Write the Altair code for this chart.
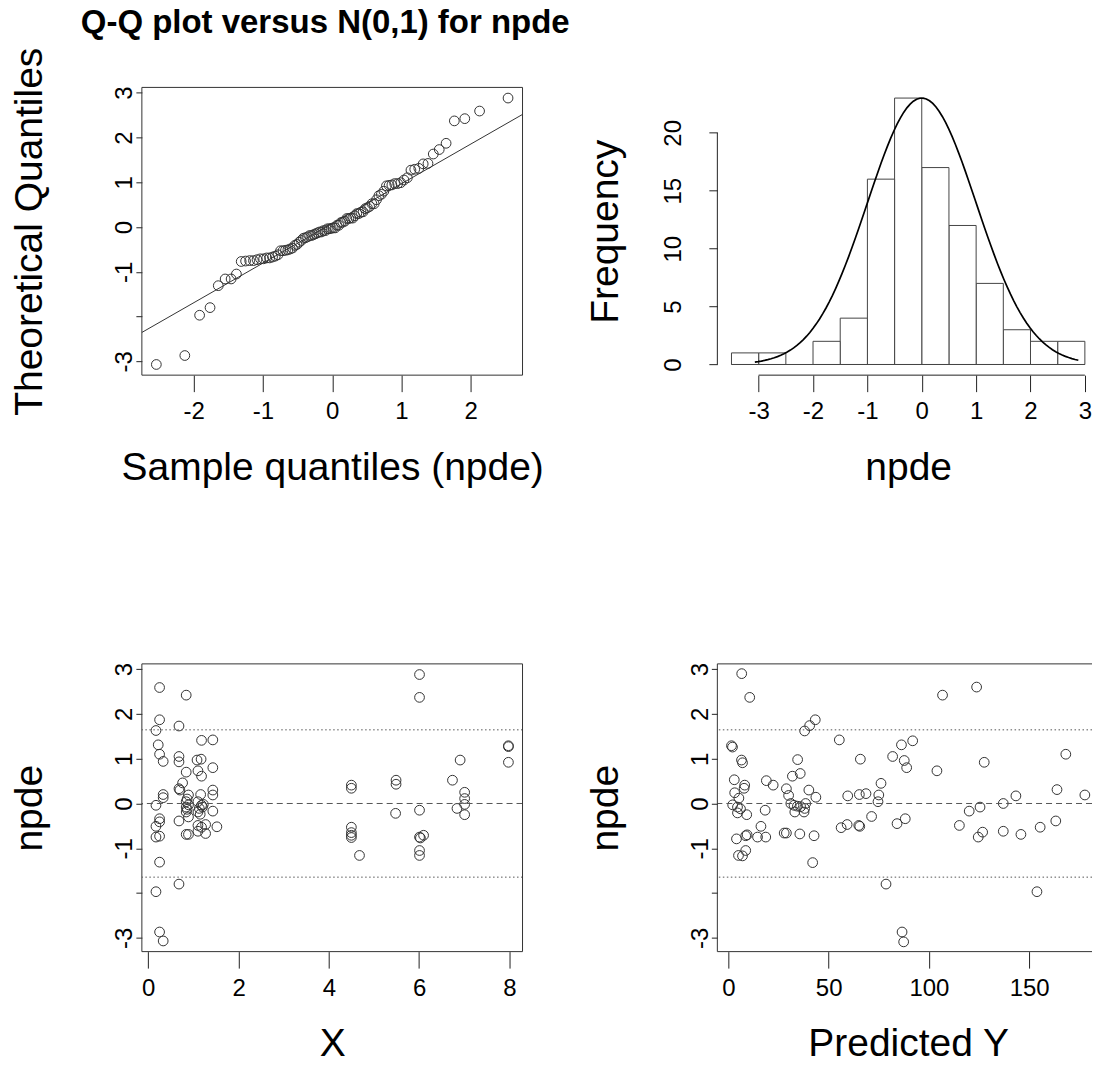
import altair as alt
import pandas as pd
import numpy as np

# ---------------- data ----------------
# bottom-left panel: X (time) and npde of each observation
time_x = [0.25, 0.84, 0.25, 0.68, 0.17, 1.18, 1.43, 0.22, 0.25, 0.33,
          0.68, 0.68, 1.08, 1.17, 1.43, 0.84, 1.10, 1.18, 0.76, 0.68,
          0.70, 0.33, 0.33, 0.89, 1.16, 1.43, 1.43, 0.17, 0.84, 0.84,
          0.84, 0.89, 1.10, 1.18, 1.20, 1.10, 1.43, 0.25, 0.25, 0.17,
          0.68, 1.10, 1.18, 1.27, 1.52, 0.84, 0.89, 1.10, 1.27, 0.17,
          0.25, 0.25, 0.68, 0.17, 0.25, 0.33,
          4.50, 4.50, 4.50, 4.50, 4.50, 4.68, 5.49, 5.49, 5.48, 6.01,
          6.01, 6.01, 6.01, 6.03, 6.10, 6.01, 6.01, 6.91, 6.74, 7.01,
          7.01, 7.01, 6.84, 7.01, 7.98, 7.98, 7.98,
          4.50, 0.86, 1.13, 0.89, 1.15, 1.22, 0.86]
npde = [2.59, 2.42, 1.87, 1.73, 1.63, 1.41, 1.42, 1.31, 1.10, 0.94,
        1.05, 0.93, 0.97, 0.99, 0.80, 0.70, 0.73, 0.61, 0.46, 0.33,
        0.30, 0.20, 0.13, 0.19, 0.20, 0.30, 0.19, -0.04, 0.04, -0.08,
        -0.19, -0.30, 0.04, -0.04, -0.08, -0.19, -0.17, -0.34, -0.41, -0.51,
        -0.39, -0.49, -0.53, -0.47, -0.52, -0.69, -0.69, -0.62, -0.67, -0.75,
        -0.73, -1.31, -1.80, -1.97, -2.87, -3.07,
        0.41, 0.34, -0.53, -0.65, -0.71, -1.16, 0.52, 0.43, -0.22, 2.88,
        2.37, -0.15, -0.75, -0.77, -0.71, -1.05, -1.16, 0.97, 0.52, 0.25,
        0.11, -0.02, -0.11, -0.25, 1.29, 1.27, 0.92,
        -0.76, -0.13, -0.11, -0.03, -0.24, -0.02, 0.10]

# bottom-right panel: predicted Y and npde
pred_y = [6.6, 10.6, 1.5, 2.0, 6.5, 7.0, 2.9, 8.1, 7.8, 3.1,
          5.2, 2.1, 4.5, 6.0, 4.5, 9.1, 18.3, 18.9, 22.3, 16.2,
          4.0, 8.6, 9.3, 14.5, 18.6, 8.6, 5.0, 7.0, 34.5, 31.9,
          35.8, 28.9, 30.0, 31.1, 32.7, 33.1, 34.4, 36.0, 38.0, 38.5,
          37.7, 27.8, 28.9, 35.6, 38.0, 40.5, 43.3, 40.1, 43.6, 42.7,
          42.0, 55.3, 65.8, 59.5, 65.3, 68.6, 76.1, 75.0, 74.6, 56.2,
          59.2, 65.0, 65.5, 71.4, 78.6, 86.3, 81.9, 87.7, 88.9, 84.1,
          88.2, 86.6, 87.4, 91.9, 104.0, 106.8, 123.8, 127.6, 115.2, 120.1,
          125.5, 126.8, 124.6, 137.1, 137.1, 143.4, 145.9, 153.9, 155.5, 163.3,
          163.9, 168.3, 177.8]
npde_pred = [2.90, 2.37, 1.29, 1.26, 0.97, 0.91, 0.53, 0.41, 0.34, 0.24,
             0.12, -0.03, -0.08, -0.12, -0.21, -0.25, -0.15, 0.51, 0.41, -0.51,
             -0.79, -0.72, -0.70, -0.75, -0.75, -1.05, -1.16, -1.17, 0.98, 0.61,
             0.67, 0.33, 0.18, 0.00, -0.04, -0.19, -0.06, -0.07, -0.11, 0.00,
             -0.19, -0.66, -0.66, -0.68, 1.62, 1.74, 1.87, 0.30, 0.14, -0.72,
             -1.32, 1.42, 0.99, 0.17, 0.20, 0.22, 0.45, 0.19, 0.04, -0.54,
             -0.47, -0.49, -0.51, -0.29, -1.80, 1.31, 1.05, 0.96, 0.80, -0.45,
             -0.34, -2.87, -3.09, 1.40, 0.73, 2.42, 2.60, 0.92, -0.49, -0.17,
             -0.08, -0.64, -0.75, 0.00, -0.62, 0.17, -0.69, -1.97, -0.53, -0.39,
             0.31, 1.10, 0.19]

hist_breaks = [-3.5, -3.0, -2.5, -2.0, -1.5, -1.0, -0.5, 0.0, 0.5, 1.0, 1.5, 2.0, 2.5, 3.0]
npde_ticks = [-3, -2, -1, 0, 1, 2, 3]
qq_ticks = [-2, -1, 0, 1, 2]
hist_xticks = [-3, -2, -1, 0, 1, 2, 3]
hist_yticks = [0, 5, 10, 15, 20]
x_ticks = [0, 2, 4, 6, 8]
pred_ticks = [0, 50, 100, 150]
ref_lines = [-1.645, 0.0, 1.645]
ref_dash = ["dot", "dash", "dot"]

# ---------------- derived quantities ----------------
df = pd.DataFrame({"time": time_x, "npde": npde})
dfp = pd.DataFrame({"pred": pred_y, "npde": npde_pred})
arr = np.array(npde)


def ext(lo, hi, f=0.04):
    r = hi - lo
    return [lo - f * r, hi + f * r]


ydom = ext(arr.min(), arr.max())
qq_lim = 2.5446  # |qnorm(0.5/90)|, extreme theoretical quantile
qq_dom = ext(-qq_lim, qq_lim)
q1, q3 = np.quantile(arr, [0.25, 0.75])
slope = (q3 - q1) / (2 * 0.6744898)
icpt = q1 + slope * 0.6744898
qqline = pd.DataFrame({"x": qq_dom, "y": [icpt + slope * v for v in qq_dom]})

counts, _ = np.histogram(arr, bins=hist_breaks)
maxc = int(counts.max())
mn, mx = float(arr.min()), float(arr.max())

W1, W2, H = 381, 375, 288
FONT = "Liberation Sans"
LBL = 24
TTL = 39
INK = "#222222"
BOX = "#333333"

hist_full = ext(hist_breaks[0], hist_breaks[-1])
hist_xdom = [hist_full[0], hist_full[0] + W2 * (hist_full[1] - hist_full[0]) / 382]
pred_full = ext(min(pred_y), max(pred_y))
pred_dom = [pred_full[0], pred_full[0] + W2 * (pred_full[1] - pred_full[0]) / 382]
xdom = ext(min(time_x), max(time_x))
hist_ydom = ext(0, maxc)

lab_expr = "datum.value == -2 ? '' : '' + datum.value"


def yaxis(title, values, label_off, tick=6, expr=lab_expr):
    return alt.Axis(values=values, labelExpr=expr, labelAngle=270, labelAlign="center",
                    labelBaseline="alphabetic", labelFontSize=LBL, labelFont=FONT,
                    labelColor="black", labelOverlap=False, labelBound=False,
                    tickSize=tick, labelPadding=label_off - tick, tickColor=INK,
                    domain=False, grid=False, title=title, titleFont=FONT,
                    titleFontSize=TTL, titleFontWeight="normal", titleColor="black",
                    titleAngle=270, titleAlign="center", titleBaseline="alphabetic",
                    titleX=-100, titleY=H / 2)


def xaxis(title, values, title_x):
    return alt.Axis(values=values, labelExpr="'' + datum.value", labelAngle=0,
                    labelAlign="center", labelBaseline="top", labelFontSize=LBL,
                    labelFont=FONT, labelColor="black", labelOverlap=False,
                    labelBound=False, labelFlush=False, tickSize=16.5,
                    labelPadding=8, tickColor=INK, domain=False, grid=False,
                    title=title, titleFont=FONT, titleFontSize=TTL,
                    titleFontWeight="normal", titleColor="black", titleAlign="center",
                    titleBaseline="alphabetic", titleX=title_x, titleY=104)


def circles(chart, x, y):
    return chart.mark_point(shape="circle", filled=False, size=95, color="#333333",
                            strokeWidth=1, opacity=1).encode(x=x, y=y)


edge_df = pd.DataFrame({"k": [0]})


def box(width, right=True):
    parts = [alt.Chart(edge_df).mark_rule(color=BOX, strokeWidth=1).encode(y=alt.value(0)),
             alt.Chart(edge_df).mark_rule(color=BOX, strokeWidth=1).encode(y=alt.value(H)),
             alt.Chart(edge_df).mark_rule(color=BOX, strokeWidth=1).encode(x=alt.value(0))]
    if right:
        parts.append(alt.Chart(edge_df).mark_rule(color=BOX, strokeWidth=1)
                     .encode(x=alt.value(width)))
    return parts


# ---------------- top-left: Q-Q plot ----------------
qq_base = (alt.Chart(df)
           .transform_window(rank="row_number()", sort=[alt.SortField("npde", order="ascending")])
           .transform_joinaggregate(n="count()")
           .transform_calculate(theo="quantileNormal((datum.rank - 0.5) / datum.n)"))
qq_x = alt.X("theo:Q", scale=alt.Scale(domain=qq_dom, nice=False, zero=False),
             axis=xaxis("Sample quantiles (npde)", qq_ticks, W1 / 2))
qq_y = alt.Y("npde:Q", scale=alt.Scale(domain=ydom, nice=False, zero=False),
             axis=yaxis("Theoretical Quantiles", npde_ticks, 10))
qq_pts = circles(qq_base, qq_x, qq_y)
qq_line = alt.Chart(qqline).mark_line(color="#333333", strokeWidth=1).encode(x="x:Q", y="y:Q")
top_left = alt.layer(qq_pts, qq_line, *box(W1)).properties(
    width=W1, height=H, view=alt.ViewBackground(stroke=None),
    title=alt.TitleParams("Q-Q plot versus N(0,1) for npde", font=FONT, fontSize=33,
                          fontWeight="bold", anchor="middle", baseline="alphabetic",
                          frame="group", offset=-19, dx=-7, color="black"))

# ---------------- top-right: histogram ----------------
hx = alt.X("b:Q", scale=alt.Scale(domain=hist_xdom, nice=False, zero=False),
           axis=xaxis("npde", hist_xticks, 191))
hy = alt.Y("count:Q", scale=alt.Scale(domain=hist_ydom, nice=False, zero=False),
           axis=yaxis("Frequency", hist_yticks, 37, tick=8.5, expr="'' + datum.value"))
bars = (alt.Chart(df)
        .transform_bin("b", "npde", bin=alt.Bin(extent=[hist_breaks[0], hist_breaks[-1]],
                                               step=hist_breaks[1] - hist_breaks[0], nice=False))
        .transform_aggregate(count="count()", groupby=["b", "b_end"])
        .mark_rect(fill="white", stroke="#444444", strokeWidth=1)
        .encode(x=hx, x2="b_end:Q", y=hy, y2=alt.datum(0)))
base_rule = (alt.Chart(pd.DataFrame({"a": [hist_breaks[0]], "b": [hist_breaks[-1]], "c": [0]}))
             .mark_rule(color="#444444", strokeWidth=1)
             .encode(x="a:Q", x2="b:Q", y="c:Q"))
curve = (alt.Chart(alt.sequence(0, 101, as_="i"))
         .transform_calculate(xp=f"{mn} + datum.i / 100 * ({mx} - {mn})")
         .transform_calculate(yp=f"{maxc} * exp(-datum.xp * datum.xp / 2)")
         .mark_line(color="black", strokeWidth=1.7)
         .encode(x="xp:Q", y="yp:Q"))
ax_x = (alt.Chart(pd.DataFrame({"a": [hist_xticks[0]], "b": [hist_xticks[-1]]}))
        .mark_rule(color=INK, strokeWidth=1)
        .encode(x="a:Q", x2="b:Q", y=alt.value(H)))
ax_y = (alt.Chart(pd.DataFrame({"a": [hist_yticks[0]], "b": [hist_yticks[-1]]}))
        .mark_rule(color=INK, strokeWidth=1)
        .encode(y="a:Q", y2="b:Q", x=alt.value(0)))
top_right = alt.layer(bars, base_rule, curve, ax_x, ax_y).properties(
    width=W2, height=H, view=alt.ViewBackground(stroke=None))

# ---------------- reference lines ----------------
refdf = pd.DataFrame({"v": ref_lines, "kind": ref_dash})


def refs():
    return (alt.Chart(refdf).mark_rule(color="#555555", strokeWidth=1)
            .encode(y="v:Q",
                    strokeDash=alt.StrokeDash("kind:N", scale=alt.Scale(domain=["dot", "dash"],
                                              range=[[1.5, 2.5], [6, 4]]), legend=None)))


# ---------------- bottom-left: npde vs X ----------------
bl_x = alt.X("time:Q", scale=alt.Scale(domain=xdom, nice=False, zero=False),
             axis=xaxis("X", x_ticks, W1 / 2))
bl_y = alt.Y("npde:Q", scale=alt.Scale(domain=ydom, nice=False, zero=False),
             axis=yaxis("npde", npde_ticks, 10))
bottom_left = alt.layer(circles(alt.Chart(df), bl_x, bl_y), refs(), *box(W1)).properties(
    width=W1, height=H, view=alt.ViewBackground(stroke=None))

# ---------------- bottom-right: npde vs predicted Y ----------------
# (its right side runs past the picture's edge, so the box has no right edge)
br_x = alt.X("pred:Q", scale=alt.Scale(domain=pred_dom, nice=False, zero=False),
             axis=xaxis("Predicted Y", pred_ticks, 191))
br_y = alt.Y("npde:Q", scale=alt.Scale(domain=ydom, nice=False, zero=False),
             axis=yaxis("npde", npde_ticks, 10))
bottom_right = alt.layer(circles(alt.Chart(dfp), br_x, br_y), refs(),
                         *box(W2, right=False)).properties(
    width=W2, height=H, view=alt.ViewBackground(stroke=None))

chart = (alt.concat(top_left, top_right, bottom_left, bottom_right, columns=2,
                    spacing=alt.RowColnumber(row=289, column=195), bounds="flush")
         .resolve_scale(x="independent", y="independent", strokeDash="independent")
         .properties(padding={"left": 11, "top": 6, "right": 1, "bottom": 2},
                     background="white")
         .configure_view(stroke=None)
         .configure(font=FONT))

chart.save("out.html", embed_options={"renderer": "svg", "actions": False})
